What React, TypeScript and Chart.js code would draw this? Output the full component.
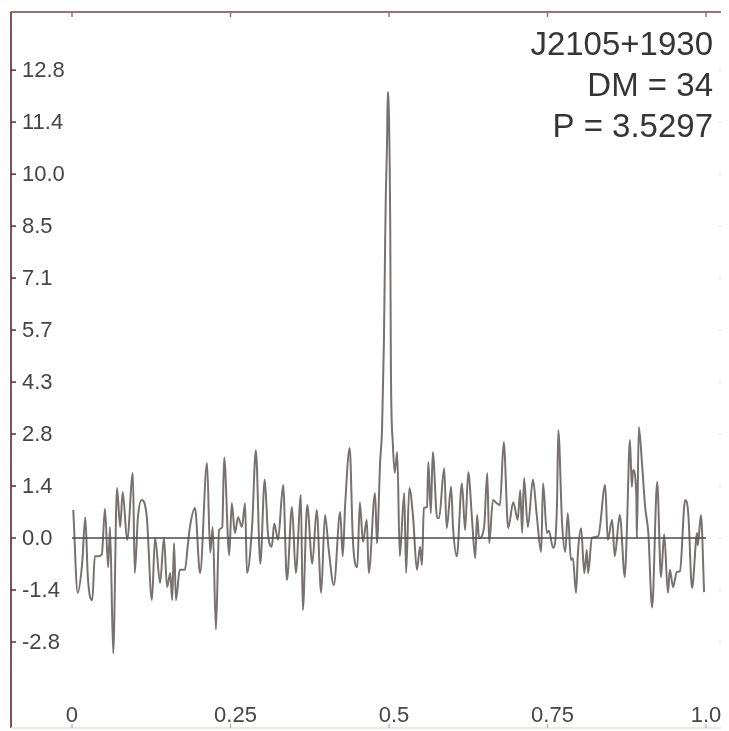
import React, { useEffect, useRef } from "react";
import { Chart, registerables } from "chart.js";

Chart.register(...registerables);

// Pulse profile: phase (0..1) and intensity
const phase = [
  0.002, 0.009, 0.016, 0.021, 0.025, 0.032, 0.036, 0.041, 0.047, 0.052,
  0.057, 0.060, 0.065, 0.071, 0.076, 0.080, 0.087, 0.096, 0.099, 0.104,
  0.110, 0.118, 0.126, 0.131, 0.139, 0.145, 0.150, 0.155, 0.158, 0.161,
  0.164, 0.170, 0.178, 0.183, 0.186, 0.194, 0.202, 0.213, 0.218, 0.222,
  0.227, 0.232, 0.237, 0.240, 0.248, 0.252, 0.257, 0.262, 0.268, 0.273,
  0.276, 0.284, 0.290, 0.297, 0.304, 0.309, 0.315, 0.319, 0.325, 0.333,
  0.339, 0.347, 0.353, 0.361, 0.364, 0.371, 0.379, 0.386, 0.393, 0.399,
  0.405, 0.413, 0.423, 0.427, 0.431, 0.438, 0.443, 0.450, 0.454, 0.459,
  0.465, 0.468, 0.478, 0.481, 0.486, 0.489, 0.492, 0.494, 0.495, 0.497,
  0.498, 0.502, 0.503, 0.506, 0.509, 0.513, 0.517, 0.524, 0.527, 0.532,
  0.538, 0.544, 0.549, 0.552, 0.555, 0.560, 0.562, 0.566, 0.569, 0.576,
  0.579, 0.587, 0.591, 0.598, 0.601, 0.607, 0.615, 0.620, 0.625, 0.631,
  0.636, 0.639, 0.642, 0.650, 0.655, 0.658, 0.664, 0.670, 0.675, 0.681,
  0.688, 0.696, 0.703, 0.707, 0.710, 0.713, 0.719, 0.727, 0.733, 0.740,
  0.743, 0.749, 0.752, 0.759, 0.765, 0.767, 0.773, 0.778, 0.782, 0.787,
  0.790, 0.795, 0.798, 0.803, 0.808, 0.812, 0.814, 0.820, 0.830, 0.841,
  0.845, 0.852, 0.856, 0.864, 0.872, 0.875, 0.880, 0.883, 0.885, 0.890,
  0.891, 0.894, 0.899, 0.904, 0.909, 0.915, 0.923, 0.929, 0.934, 0.940,
  0.943, 0.948, 0.954, 0.959, 0.967, 0.972, 0.978, 0.986, 0.987, 0.992,
  0.997,
];

const intensity = [
  0.77, -1.5, -0.7, 0.57, -1.07, -1.7, -0.5, -0.5, -0.45, 0.8,
  -0.8, 0.3, -3.15, 1.37, 0.3, 1.26, -0.05, 1.78, -0.96, 0.57,
  1.04, 0.57, -1.7, 0.0, -1.23, 0.0, -1.34, -0.96, -1.7, -0.14,
  -1.7, -0.87, -0.87, -0.14, 0.3, 0.82, -0.96, 2.05, -0.4, 0.3,
  -2.5, 0.22, 0.3, 2.2, -0.47, 0.95, 0.14, 0.57, 0.3, 0.95,
  -0.96, 0.3, 2.4, -0.7, 1.6, 0.14, -0.24, 0.4, -0.05, 1.45,
  -1.15, 0.85, -0.96, 1.18, -1.97, 0.9, -0.7, 0.77, -1.5, 0.63,
  -0.33, -1.29, 0.71, -0.5, 0.95, 2.46, -0.05, -0.8, 0.98, -0.1,
  0.5, -0.96, 1.23, -0.14, 2.08, 2.95, 5.4, 8.2, 9.4, 10.9,
  12.2, 8.4, 4.6, 2.6, 1.78, 2.35, -0.5, 1.23, -0.96, 1.37,
  0.57, -0.87, -0.24, -0.74, 0.82, 0.85, 2.08, 0.68, 2.35, 0.55,
  0.55, 1.91, 0.27, 1.4, 0.3, -0.5, 1.5, 0.22, 1.8, 0.5,
  -0.55, 0.63, 0.0, 0.3, 1.78, -0.14, 1.04, 0.95, 0.9, 2.63,
  0.27, 0.98, 0.5, 1.31, 0.14, 1.64, 0.3, 1.6, 0.63, -0.38,
  1.5, 0.14, 0.2, -0.27, 0.95, 2.95, 0.4, -0.38, 0.68, -0.6,
  -0.55, -1.5, -0.4, 0.27, -0.96, -0.33, -0.96, 0.0, 0.05, 1.45,
  -0.05, 0.5, -0.5, 0.63, -1.07, 0.1, 2.68, 1.4, 1.86, 1.23,
  0.0, 3.04, 2.05, 0.85, 0.14, -1.9, 1.53, -1.07, 0.1, -1.5,
  -0.87, -1.34, -0.93, -0.9, 1.04, 0.68, -1.37, 0.14, -0.2, 0.63,
  -1.48,
];

const baselinePhase = [0, 1];
const baselineValue = [0, 0];

const yTickValues = [
  -2.8444, -1.4222, 0, 1.4222, 2.8444, 4.2667, 5.6889, 7.1111, 8.5333,
  9.9556, 11.3778, 12.8,
];
const yTickLabels = ["-2.8", "-1.4", "0.0", "1.4", "2.8", "4.3", "5.7", "7.1", "8.5", "10.0", "11.4", "12.8"];
const xTickValues = [0, 0.25, 0.5, 0.75, 1.0];
const xTickLabels = ["0", "0.25", "0.5", "0.75", "1.0"];

const annotationLines = ["J2105+1930", "DM = 34", "P = 3.5297"];

const FONT = "'Liberation Sans', Arial, Helvetica, sans-serif";

const framePlugin = {
  id: "frame",
  afterDraw(chart: any) {
    const { ctx, chartArea } = chart;
    const { left, right, top, bottom } = chartArea;
    const xs = chart.scales.x;
    const ys = chart.scales.y;
    ctx.save();
    const line = (x1: number, y1: number, x2: number, y2: number, c: string, w: number) => {
      ctx.beginPath();
      ctx.strokeStyle = c;
      ctx.lineWidth = w;
      ctx.moveTo(x1, y1);
      ctx.lineTo(x2, y2);
      ctx.stroke();
    };
    // frame
    line(left, top, left, bottom, "#5e2a2a", 1.6);
    line(left, top, right, top, "#7a4040", 1.4);
    line(right, top, right, bottom, "#e6e2e2", 1.2);
    line(left, bottom, right, bottom, "#f0dada", 1.6);
    // y ticks and labels (inside)
    ctx.font = `22px ${FONT}`;
    ctx.fillStyle = "#454545";
    ctx.textAlign = "left";
    ctx.textBaseline = "middle";
    yTickValues.forEach((v, i) => {
      const py = ys.getPixelForValue(v);
      line(left, py, left + 5, py, "#5e2a2a", 1.5);
      line(right - 4, py, right, py, "#e0dcdc", 1.2);
      ctx.fillText(yTickLabels[i], left + 11, py + 1);
    });
    // x ticks and labels (inside)
    ctx.textAlign = "center";
    ctx.textBaseline = "middle";
    xTickValues.forEach((v, i) => {
      const px = xs.getPixelForValue(v);
      line(px, top, px, top + 5, "#8a7070", 1.4);
      line(px, bottom - 4, px, bottom, "#aaa", 1.2);
      const shift = i === 0 || i === xTickValues.length - 1 ? 0 : 5;
      ctx.fillText(xTickLabels[i], px + shift, bottom - 12);
    });
    // annotation text
    ctx.fillStyle = "#353535";
    ctx.font = `33px ${FONT}`;
    ctx.textAlign = "right";
    ctx.textBaseline = "alphabetic";
    const tx = right - 10;
    annotationLines.forEach((t, i) => {
      ctx.fillText(t, tx, top + 43 + i * 41);
    });
    ctx.restore();
  },
};

export default function App() {
  const ref = useRef<HTMLCanvasElement | null>(null);

  useEffect(() => {
    if (!ref.current) return;
    const profile = phase.map((p, i) => ({ x: p, y: intensity[i] }));
    const baseline = baselinePhase.map((p, i) => ({ x: p, y: baselineValue[i] }));
    const chart = new Chart(ref.current, {
      type: "line",
      data: {
        datasets: [
          {
            data: baseline,
            borderColor: "#4a4a4a",
            borderWidth: 1.3,
            pointRadius: 0,
            tension: 0,
          },
          {
            data: profile,
            borderColor: "#777171",
            borderWidth: 2,
            pointRadius: 0,
            cubicInterpolationMode: "monotone",
          },
        ],
      },
      options: {
        animation: false,
        responsive: false,
        devicePixelRatio: 1,
        layout: { padding: { left: 3, top: 4, right: 6, bottom: 3 } },
        plugins: {
          legend: { display: false },
          tooltip: { enabled: false },
        },
        scales: {
          x: {
            type: "linear",
            display: false,
            min: -0.0962,
            max: 1.0268,
          },
          y: {
            type: "linear",
            display: false,
            min: -5.197,
            max: 14.39,
          },
        },
      },
      plugins: [framePlugin],
    });
    return () => chart.destroy();
  }, []);

  return (
    <div style={{ width: 721, height: 723 }}>
      <canvas ref={ref} width={721} height={723} style={{ display: "block" }} />
    </div>
  );
}
